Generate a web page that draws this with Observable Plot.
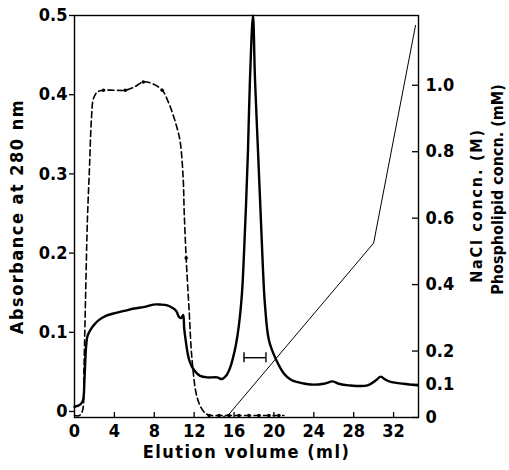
<!DOCTYPE html>
<html><head><meta charset="utf-8">
<script src="https://cdn.jsdelivr.net/npm/d3@7"></script>
<script src="https://cdn.jsdelivr.net/npm/@observablehq/plot@0.6"></script>
<style>body{margin:0;background:#fff}</style>
</head><body><div id="chart"></div>
<script>
// ---- data ----
const xTicks = [0, 4, 8, 12, 16, 20, 24, 28, 32];
const leftTicks = [0, 0.1, 0.2, 0.3, 0.4, 0.5];
const leftTickLabels = ["0", "0.1", "0.2", "0.3", "0.4", "0.5"];
const rightTicks = [0, 0.1, 0.2, 0.4, 0.6, 0.8, 1.0];
const rightTickLabels = ["0", "0.1", "0.2", "0.4", "0.6", "0.8", "1.0"];

// Absorbance at 280 nm (solid line, left axis)
const absVol = [0, 0.3, 0.6, 0.85, 1.0, 1.15, 1.3, 1.6, 2.0, 2.5, 3.2, 4.0, 5.0, 6.0, 7.0, 7.9, 8.6, 9.3, 9.8, 10.2, 10.5, 10.7, 10.9, 11.0, 11.15, 11.3, 11.5, 11.8, 12.2, 12.6, 13.3, 14.3, 14.8, 15.2, 15.6, 15.9, 16.2, 16.5, 16.8, 17.0, 17.2, 17.4, 17.6, 17.9, 18.1, 18.4, 18.7, 18.9, 19.1, 19.5, 20.2, 21.0, 21.7, 22.4, 23.7, 25.0, 25.9, 26.5, 27.5, 29.4, 30.2, 30.7, 31.2, 31.8, 33.0, 34.4];
const absVal = [0.006, 0.007, 0.009, 0.014, 0.04, 0.08, 0.095, 0.103, 0.11, 0.116, 0.121, 0.124, 0.127, 0.13, 0.132, 0.135, 0.135, 0.134, 0.131, 0.127, 0.119, 0.118, 0.122, 0.105, 0.09, 0.077, 0.065, 0.056, 0.049, 0.045, 0.043, 0.043, 0.041, 0.045, 0.055, 0.068, 0.085, 0.11, 0.15, 0.2, 0.26, 0.33, 0.42, 0.5, 0.42, 0.33, 0.24, 0.18, 0.135, 0.09, 0.066, 0.048, 0.04, 0.037, 0.034, 0.035, 0.038, 0.035, 0.033, 0.033, 0.039, 0.044, 0.04, 0.037, 0.035, 0.033];

// Phospholipid concn. (mM) (dashed line, right axis)
const phosVol = [0, 0.5, 0.8, 0.95, 1.1, 1.3, 1.5, 1.7, 1.9, 2.3, 2.9, 4.0, 5.1, 6.0, 6.9, 7.8, 8.8, 9.4, 9.9, 10.3, 10.6, 10.9, 11.0, 11.2, 11.5, 11.8, 12.3, 12.9, 13.4, 15.0, 17.0, 19.0, 21.0];
const phosVal = [0.006, 0.006, 0.02, 0.15, 0.35, 0.6, 0.75, 0.9, 0.96, 0.98, 0.985, 0.985, 0.985, 0.995, 1.01, 1.005, 0.985, 0.95, 0.91, 0.87, 0.83, 0.72, 0.62, 0.48, 0.32, 0.17, 0.06, 0.02, 0.008, 0.006, 0.006, 0.006, 0.006];
const phosDotVol = [2.9, 5.1, 6.9, 8.8, 11.2, 13.5, 14.5, 15.5, 16.5, 17.5, 18.5, 19.5, 20.5];
const phosDotVal = [0.985, 0.985, 1.01, 0.985, 0.48, 0.006, 0.006, 0.006, 0.006, 0.006, 0.006, 0.006, 0.006];

// NaCl concn. (M) (thin line, right axis)
const naclVol = [14.8, 15.5, 16.2, 30.0, 34.2];
const naclVal = [0, 0.01, 0.035, 0.525, 1.18];

// horizontal bar (right-axis units)
const barLevel = 0.18;
const barFrom = 17.0;
const barTo = 19.2;

// ---- scales ----
const yLo = -0.0076, yHi = 0.5, rightMax = 1.21;
const r2y = v => yLo + v / rightMax * (yHi - yLo);

const absData = absVol.map((x, i) => ({x, y: absVal[i]}));
const phosData = phosVol.map((x, i) => ({x, y: r2y(phosVal[i])}));
const phosDots = phosDotVol.map((x, i) => ({x, y: r2y(phosDotVal[i])}));
const naclData = naclVol.map((x, i) => ({x, y: r2y(naclVal[i])}));
const rightPos = rightTicks.map(r2y);

const W = 509, H = 470, mL = 74, mR = 91, mT = 15, mB = 53;
const innerW = W - mL - mR, innerH = H - mT - mB;
const FONT = "'DejaVu Sans Condensed', 'DejaVu Sans', sans-serif";

const chart = Plot.plot({
  width: W, height: H,
  marginLeft: mL, marginRight: mR, marginTop: mT, marginBottom: mB,
  style: {fontFamily: FONT, fontSize: "18px", fontWeight: "bold", background: "white", color: "black", fontStretch: "condensed"},
  x: {domain: [0, 34.5], axis: null},
  y: {domain: [yLo, yHi], axis: null},
  marks: [
    // left axis
    Plot.axisY(leftTicks, {anchor: "left", tickSize: 5, tickPadding: 2, tickFormat: (d, i) => leftTickLabels[leftTicks.indexOf(d)], label: null, strokeWidth: 1.3}),
    // right axis labels + inward ticks
    Plot.axisY(rightPos, {anchor: "right", tickSize: 0, tickPadding: 7, tickFormat: d => rightTickLabels[rightPos.indexOf(d)], label: null}),
    Plot.ruleY(rightPos, {insetLeft: innerW - 6, strokeWidth: 1.3}),
    // bottom axis labels + inward ticks
    Plot.axisX(xTicks, {anchor: "bottom", tickSize: 0, tickPadding: 7, label: null}),
    Plot.ruleX(xTicks.filter(d => d > 0), {insetTop: innerH - 5, strokeWidth: 1.3}),
    Plot.frame({stroke: "black", strokeWidth: 1.4}),
    // series
    Plot.line(naclData, {x: "x", y: "y", stroke: "black", strokeWidth: 1}),
    Plot.line(phosData, {x: "x", y: "y", stroke: "black", strokeWidth: 1.6, strokeDasharray: "6,3.5", curve: "catmull-rom"}),
    Plot.dot(phosDots, {x: "x", y: "y", r: 1.8, fill: "black"}),
    Plot.line(absData, {x: "x", y: "y", stroke: "black", strokeWidth: 2.4, curve: "catmull-rom"}),
    // bar
    Plot.ruleY([r2y(barLevel)], {x1: barFrom, x2: barTo, strokeWidth: 1.4}),
    Plot.ruleX([barFrom, barTo], {y1: r2y(barLevel - 0.015), y2: r2y(barLevel + 0.015), strokeWidth: 1.4}),
    // axis titles
    Plot.text(["Absorbance at 280 nm"], {frameAnchor: "left", dx: -57, rotate: -90, textAnchor: "middle", lineAnchor: "middle", fontSize: 18}),
    Plot.text(["Elution volume (ml)"], {frameAnchor: "bottom", dy: 35, textAnchor: "middle", lineAnchor: "middle", fontSize: 18}),
    Plot.text(["NaCl concn. (M)"], {frameAnchor: "right", dx: 58, dy: -11, rotate: -90, textAnchor: "middle", lineAnchor: "middle", fontSize: 16}),
    Plot.text(["Phospholipid concn. (mM)"], {frameAnchor: "right", dx: 79, dy: -27, rotate: -90, textAnchor: "middle", lineAnchor: "middle", fontSize: 16})
  ]
});

const spacing = {"Absorbance at 280 nm": "1.5px", "Elution volume (ml)": "1.5px", "NaCl concn. (M)": "1.8px", "Phospholipid concn. (mM)": "0px"};
d3.select(chart).selectAll("text").each(function () {
  const s = spacing[this.textContent];
  if (s) this.style.letterSpacing = s;
});
document.getElementById("chart").appendChild(chart);
</script></body></html>
